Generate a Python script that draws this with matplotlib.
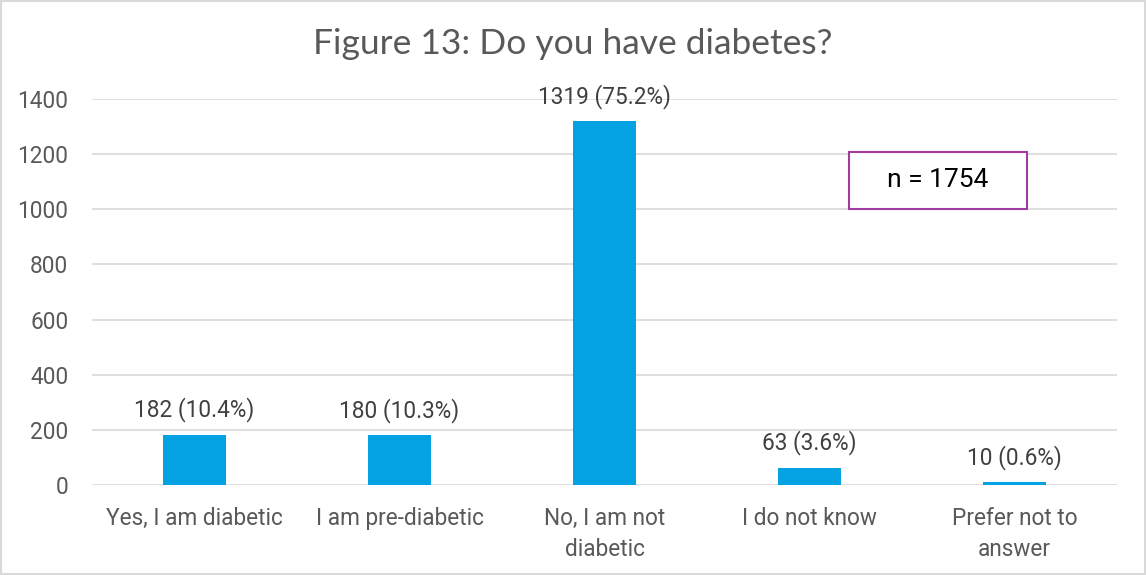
import matplotlib
matplotlib.use("Agg")
import matplotlib.pyplot as plt
from matplotlib.patches import Rectangle

categories = ["Yes, I am diabetic", "I am pre-diabetic", "No, I am not\ndiabetic",
              "I do not know", "Prefer not to\nanswer"]
counts = [182, 180, 1319, 63, 10]
percents = [10.4, 10.3, 75.2, 3.6, 0.6]
n_total = 1754
yticks = [0, 200, 400, 600, 800, 1000, 1200, 1400]

plt.rcParams['font.family'] = ['Roboto', 'DejaVu Sans']
txt = '#595959'

fig = plt.figure(figsize=(11.46, 5.75), dpi=100)
ax = fig.add_axes([0.0803, 0.1565, 0.8944, 0.6713])

x = list(range(len(categories)))
ax.bar(x, counts, width=0.31, color='#05A2E3', zorder=3)
ax.set_xlim(-0.5, len(categories) - 0.5)
ax.set_ylim(0, 1400)
ax.set_yticks(yticks)
ax.set_yticklabels([str(v) for v in yticks], fontsize=16.3, color=txt)
ax.set_xticks(x)
ax.set_xticklabels(categories, fontsize=16.3, color=txt, linespacing=1.42)
ax.tick_params(axis='both', length=0)
ax.tick_params(axis='x', pad=16)
ax.tick_params(axis='y', pad=17)
ax.grid(axis='y', color='#D9D9D9', linewidth=1.2, zorder=0)
for s in ax.spines.values():
    s.set_visible(False)

for xi, c, p in zip(x, counts, percents):
    ax.annotate(f"{c} ({p}%)", (xi, c), xytext=(0, 9), textcoords='offset points',
                ha='center', va='bottom', fontsize=16.3, color='#404040')

fig.text(0.5, 0.923, "Figure 13: Do you have diabetes?", ha='center', va='center',
         fontsize=25.5, color=txt, family=['Lato', 'DejaVu Sans'])

ax.add_patch(Rectangle((0.7385, 0.715), 0.1735, 0.148, transform=ax.transAxes,
                       fill=True, facecolor='white', edgecolor='#A03BA0', linewidth=1.5, zorder=5))
ax.text(0.8253, 0.789, f"n = {n_total}", transform=ax.transAxes, ha='center', va='center',
        fontsize=19, color='black', zorder=6)

fig.patches.append(Rectangle((0.001, 0.001), 0.998, 0.997, transform=fig.transFigure,
                             fill=False, edgecolor='#D9D9D9', linewidth=1.5))

fig.savefig("out.png", dpi=100)
